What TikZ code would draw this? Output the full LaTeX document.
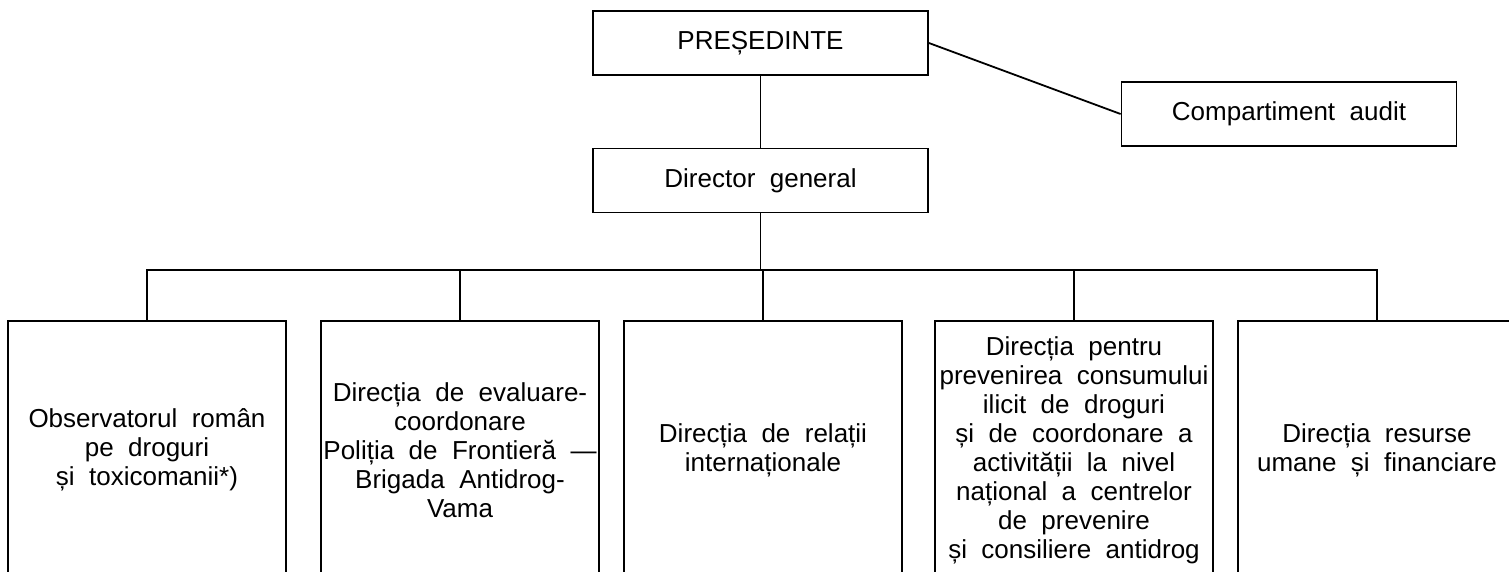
\documentclass[tikz,border=0pt]{standalone}
\usepackage{fontspec}
\setmainfont{Liberation Sans}[WordSpace=2]
\begin{document}
\begin{tikzpicture}[x=1pt,y=-1pt,
  box/.style={draw,line width=1.8pt,inner sep=0pt,align=center,
    font=\fontsize{26}{29}\selectfont},
  topbox/.style={box,minimum width=335pt,minimum height=64pt},
  lowbox/.style={box,minimum width=278pt,minimum height=258pt},
  conn/.style={line width=1.8pt}]
\useasboundingbox (0,0) rectangle (1509,571);
\clip (0,0) rectangle (1509,571);
\node[topbox] (P) at (760.5,43) {PREȘEDINTE};
\node[topbox] (A) at (1289,114) {Compartiment audit};
\node[topbox] (D) at (760.5,180.5) {Director general};
\node[lowbox] (b1) at (147,450) {Observatorul român\\pe droguri\\și toxicomanii*)};
\node[lowbox] (b2) at (460,450) {Direcția de evaluare-\\coordonare\\Poliția de Frontieră —\\Brigada Antidrog-\\Vama};
\node[lowbox] (b3) at (763,450) {Direcția de relații\\internaționale};
\node[lowbox] (b4) at (1074,450) {Direcția pentru\\prevenirea consumului\\ilicit de droguri\\și de coordonare a\\activității la nivel\\național a centrelor\\de prevenire\\și consiliere antidrog};
\node[lowbox] (b5) at (1377,450) {Direcția resurse\\umane și financiare};
\coordinate (bus) at (760.5,270);
\draw[conn] (P.east) -- (A.west);
\draw[conn] (P.south) -- (D.north);
\draw[conn] (D.south) -- (bus);
\draw[conn] (b1.north) -- (b1.north |- bus) -- (b5.north |- bus) -- (b5.north);
\draw[conn] (b2.north) -- (b2.north |- bus);
\draw[conn] (b3.north) -- (b3.north |- bus);
\draw[conn] (b4.north) -- (b4.north |- bus);
\end{tikzpicture}
\end{document}
